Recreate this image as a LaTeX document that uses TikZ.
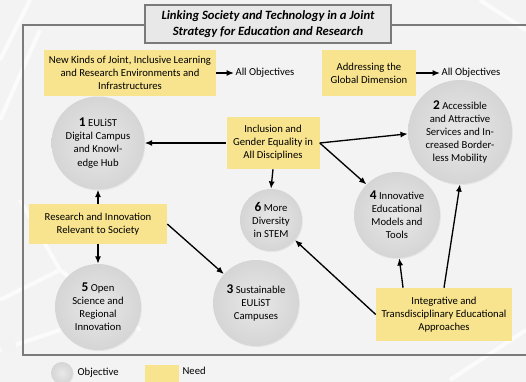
\documentclass[tikz,border=0pt]{standalone}
\usepackage{fontspec}
\setmainfont{Carlito}
\usetikzlibrary{arrows.meta,calc,shadows}
\definecolor{needfill}{HTML}{F8E48E}
\definecolor{objin}{HTML}{E8E8E8}
\definecolor{objout}{HTML}{D5D5D5}
\definecolor{bgcol}{HTML}{F3F3F3}
\definecolor{framecol}{HTML}{7A7A7A}
\tikzset{
  need/.style={fill=needfill, draw=none, align=center, inner sep=0pt,
    font=\fontsize{8}{9.8}\selectfont},
  objective/.style={circle, draw=none, inner color=objin, outer color=objout,
    align=center, inner sep=0pt, font=\fontsize{8}{9.8}\selectfont,
    drop shadow={shadow xshift=0.6pt, shadow yshift=-0.8pt, opacity=0.12}},
  link/.style={line width=1pt, -{Latex[length=5.5pt,width=4.5pt]}},
  plain/.style={align=left, inner sep=1pt, font=\fontsize{8}{9.8}\selectfont},
  net/.style={line width=3pt, draw=white, opacity=0.7},
}
\begin{document}
\begin{tikzpicture}[x=0.75pt,y=-0.75pt]
  % page background
  \fill[bgcol] (0,0) rectangle (526,382);
  \useasboundingbox (0,0) rectangle (526,382);
  % faint network ornament in the background
  \draw[net] (0,300) -- (60,270) -- (140,330) (0,350) -- (60,330) (60,270) -- (20,200);
  \draw[net] (0,120) -- (40,30) (0,60) -- (30,0) (480,0) -- (526,30) (450,380) -- (526,330);
  \fill[gray!10] (8,345) circle (8);
  % outer frame
  \draw[framecol, line width=0.9pt] (540,25) -- (23,25) -- (23,355) -- (540,355);
  % title
  \node[draw=framecol, line width=0.9pt, fill=gray!18, minimum width=246*0.75pt,
        minimum height=38*0.75pt, align=center,
        font=\fontsize{9.5}{12}\selectfont\bfseries\itshape] (title) at (268,24)
        {Linking Society and Technology in a Joint\\Strategy for Education and Research};
  % needs
  \node[need, minimum width=172*0.75pt, minimum height=46*0.75pt] (n1) at (130,73)
    {New Kinds of Joint, Inclusive Learning\\and Research Environments and\\Infrastructures};
  \node[plain, anchor=west] (ao1) at (234,73) {All Objectives};
  \node[need, minimum width=94*0.75pt, minimum height=46*0.75pt] (n2) at (369,73)
    {Addressing the\\Global Dimension};
  \node[plain, anchor=west] (ao2) at (440,73) {All Objectives};
  \node[need, minimum width=93*0.75pt, minimum height=52*0.75pt] (inc) at (273,143)
    {Inclusion and\\Gender Equality in\\All Disciplines};
  \node[need, minimum width=138*0.75pt, minimum height=40*0.75pt] (res) at (98,224)
    {Research and Innovation\\Relevant to Society};
  \node[need, minimum width=136*0.75pt, minimum height=53*0.75pt] (integ) at (444,314.5)
    {Integrative and\\Transdisciplinary Educational\\Approaches};
  % objectives
  \node[objective, minimum size=93*0.75pt] (c1) at (98,143)
    {{\fontsize{10}{10}\selectfont\bfseries 1} EULiST\\Digital Campus\\and Knowl-\\edge Hub};
  \node[objective, minimum size=104*0.75pt] (c2) at (460,132)
    {{\fontsize{10}{10}\selectfont\bfseries 2} Accessible\\and Attractive\\Services and In-\\creased Border-\\less Mobility};
  \node[objective, minimum size=86*0.75pt] (c3) at (256,303)
    {{\fontsize{10}{10}\selectfont\bfseries 3} Sustainable\\EULiST\\Campuses};
  \node[objective, minimum size=86*0.75pt] (c4) at (397,215)
    {{\fontsize{10}{10}\selectfont\bfseries 4} Innovative\\Educational\\Models and\\Tools};
  \node[objective, minimum size=86*0.75pt] (c5) at (98,307)
    {{\fontsize{10}{10}\selectfont\bfseries 5} Open\\Science and\\Regional\\Innovation};
  \node[objective, minimum size=62*0.75pt] (c6) at (271,220)
    {{\fontsize{10}{10}\selectfont\bfseries 6} More\\Diversity\\in STEM};
  % connectors
  \draw[link] (n1.east) -- (ao1.west);
  \draw[link] (n2.east) -- (ao2.west);
  \draw[link] (inc.west) -- (c1.east);
  \draw[link] (inc.east) -- (c2.182);
  \draw[link] (inc.east) -- (c4.135);
  \draw[link] (inc.south) -- (c6.north);
  \draw[link] (res.north) -- (c1.south);
  \draw[link] (res.south) -- (c5.north);
  \draw[link] (res.east) -- (c3.138);
  \draw[link] (integ.west) -- (c6.-40);
  \draw[link] ($(integ.north west)!0.2!(integ.north east)$) -- (c4.-87);
  \draw[link] (integ.north) -- (c2.south);
  % legend
  \node[objective, minimum size=22*0.75pt] (lobj) at (62,373) {};
  \node[plain, anchor=west] (lobjt) at (76,373) {Objective};
  \node[fill=needfill, minimum width=34*0.75pt, minimum height=17*0.75pt, inner sep=0pt] (lneed) at (162,373.5) {};
  \node[plain, anchor=west] (lneedt) at (181,371) {Need};
\end{tikzpicture}
\end{document}
